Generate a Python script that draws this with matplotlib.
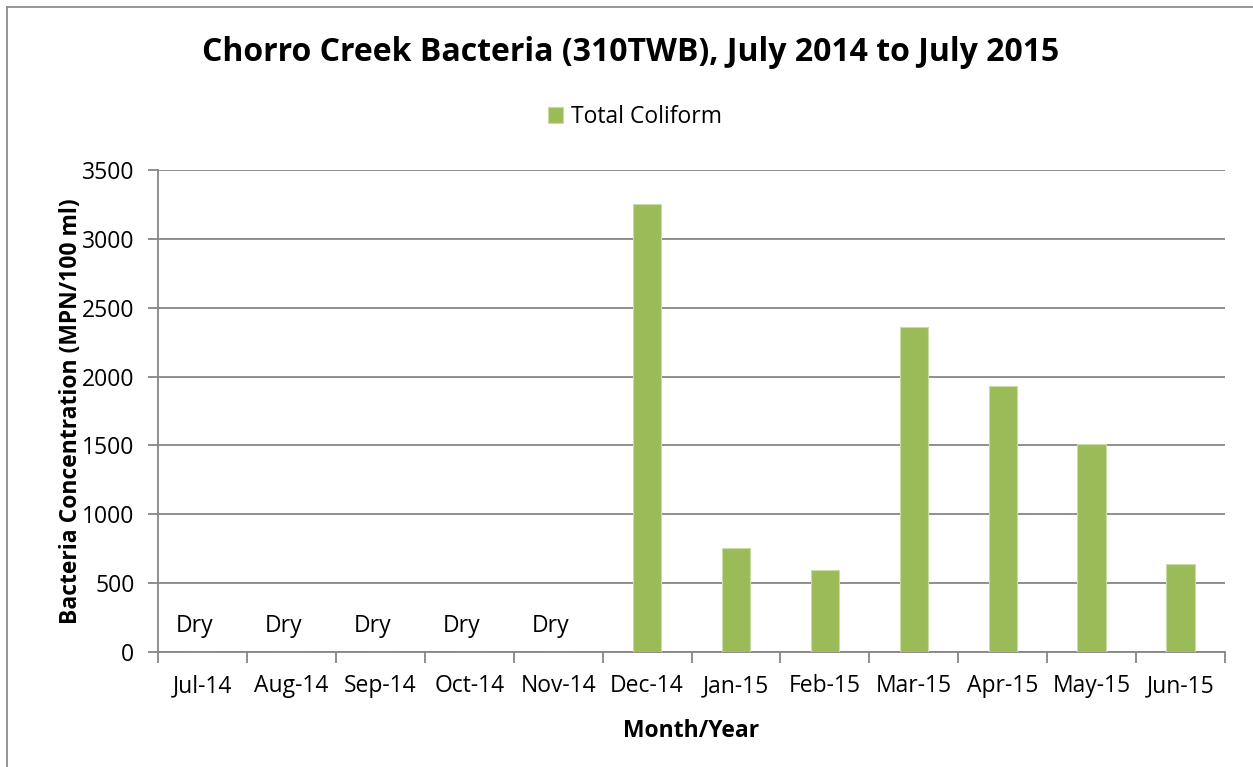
import matplotlib.pyplot as plt
from matplotlib.lines import Line2D
import numpy as np

plt.rcParams['font.family'] = ['Open Sans', 'DejaVu Sans']

# Data
months = ['Jul-14', 'Aug-14', 'Sep-14', 'Oct-14', 'Nov-14', 'Dec-14',
          'Jan-15', 'Feb-15', 'Mar-15', 'Apr-15', 'May-15', 'Jun-15']
total_coliform = [0, 0, 0, 0, 0, 3255, 758, 596, 2358, 1934, 1513, 636]
dry_months = ['Jul-14', 'Aug-14', 'Sep-14', 'Oct-14', 'Nov-14']
y_ticks = [0, 500, 1000, 1500, 2000, 2500, 3000, 3500]

green = '#9BBB59'
grid_gray = '#868686'
fs = 16.5

fig = plt.figure(figsize=(12.53, 7.67), dpi=100)
ax = fig.add_axes([0.1261, 0.15, 0.9777 - 0.1261, 0.7784 - 0.15])

x = np.arange(len(months))
ax.bar(x, total_coliform, width=0.32, color=green, edgecolor='#C9DBA6',
       linewidth=0.8, zorder=3, label='Total Coliform')

for m in dry_months:
    ax.text(months.index(m) - 0.09, 190, 'Dry', ha='center', va='center', fontsize=fs)

ax.set_xlim(-0.5, len(months) - 0.5)
ax.set_ylim(0, 3500)
ax.set_yticks(y_ticks)
ax.set_yticklabels([str(v) for v in y_ticks], fontsize=fs)
ax.yaxis.grid(True, color=grid_gray, linewidth=1.3, zorder=0)
ax.tick_params(axis='y', length=7, color=grid_gray, width=1.3, pad=10)

# x ticks at category boundaries, labels centred under categories
ax.set_xticks(np.arange(-0.5, len(months)), minor=False)
ax.set_xticklabels([])
ax.set_xticks(x, minor=True)
ax.set_xticklabels(months, minor=True, fontsize=fs)
ax.tick_params(axis='x', which='major', length=8, color=grid_gray, width=1.3)
ax.tick_params(axis='x', which='minor', length=0, pad=16)

for side in ['top', 'right']:
    ax.spines[side].set_visible(False)
for side in ['left', 'bottom']:
    ax.spines[side].set_color(grid_gray)
    ax.spines[side].set_linewidth(1.3)

ax.set_xlabel('Month/Year', fontsize=fs, fontweight='bold', labelpad=15)
ax.set_ylabel('Bacteria Concentration (MPN/100 ml)', fontsize=fs,
              fontweight='bold', labelpad=-1)

fig.text(0.5036, 0.932, 'Chorro Creek Bacteria (310TWB), July 2014 to July 2015',
         ha='center', va='center', fontsize=23, fontweight='bold')

fig.legend(loc='center', bbox_to_anchor=(0.507, 0.8475), frameon=False,
           fontsize=fs, handlelength=0.65, handleheight=0.65, handletextpad=0.35)

# chart border (left and top edges visible)
fig.add_artist(Line2D([0.0056, 0.0056], [0, 0.991], transform=fig.transFigure,
                      color='#8C8C8C', linewidth=1.3))
fig.add_artist(Line2D([0.0056, 1], [0.991, 0.991], transform=fig.transFigure,
                      color='#8C8C8C', linewidth=1.3))

fig.savefig('out.png', dpi=100)
